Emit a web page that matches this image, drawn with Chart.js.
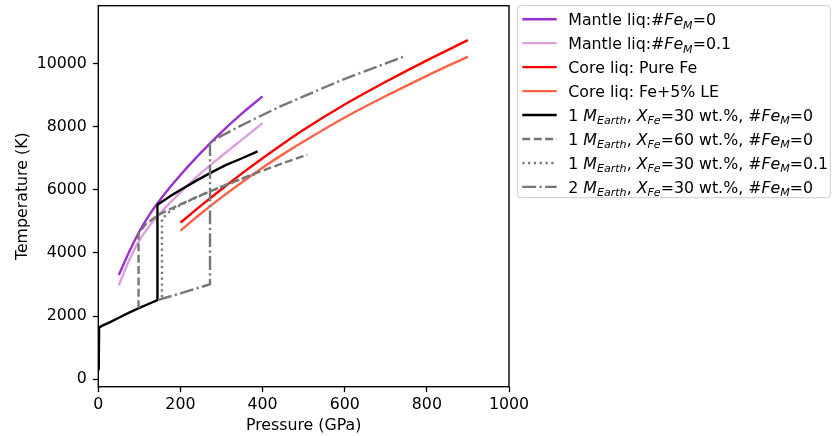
<!DOCTYPE html>
<html>
<head>
<meta charset="utf-8">
<script src="https://cdn.jsdelivr.net/npm/chart.js@4.4.1/dist/chart.umd.min.js"></script>
<style>
  html, body { margin: 0; padding: 0; background: #fff; }
</style>
</head>
<body>
<canvas id="meltChart" width="833" height="436"></canvas>
<script>
// axis ticks
const pressureTicks = [0, 200, 400, 600, 800, 1000];
const temperatureTicks = [0, 2000, 4000, 6000, 8000, 10000];

// legend labels ($...$ = math, _ = subscript)
const seriesLabels = [
  'Mantle liq:#$Fe_M$=0',
  'Mantle liq:#$Fe_M$=0.1',
  'Core liq: Pure Fe',
  'Core liq: Fe+5% LE',
  '1 $M_{Earth}$, $X_{Fe}$=30 wt.%, #$Fe_M$=0',
  '1 $M_{Earth}$, $X_{Fe}$=60 wt.%, #$Fe_M$=0',
  '1 $M_{Earth}$, $X_{Fe}$=30 wt.%, #$Fe_M$=0.1',
  '2 $M_{Earth}$, $X_{Fe}$=30 wt.%, #$Fe_M$=0'
];

// mantle liquidus
const mantle0P = [50, 75, 100, 125, 150, 200, 250, 300, 350, 400];
const mantle0T = [3300, 4030, 4680, 5220, 5680, 6470, 7180, 7830, 8420, 8960];
const mantle01P = [50, 75, 100, 125, 150, 200, 250, 300, 350, 400];
const mantle01T = [2980, 3760, 4400, 4860, 5250, 5920, 6530, 7070, 7590, 8110];

// core liquidus
const coreFeP = [200, 250, 300, 350, 400, 450, 500, 600, 700, 800, 900];
const coreFeT = [4960, 5500, 6020, 6520, 7000, 7460, 7900, 8700, 9420, 10100, 10740];
const coreLEP = [200, 250, 300, 350, 400, 450, 500, 600, 700, 800, 900];
const coreLET = [4710, 5250, 5760, 6240, 6700, 7130, 7530, 8290, 8970, 9610, 10220];

// planet temperature profiles
const earth30P = [1, 2, 10, 30, 50, 75, 100, 125, 144, 144, 175, 207, 240, 272, 310, 350, 388];
const earth30T = [290, 1640, 1700, 1820, 1950, 2110, 2260, 2400, 2510, 5530, 5800, 6050, 6300, 6530, 6780, 7000, 7216];
const earth60P = [98, 98, 115, 130, 150, 175, 200, 250, 300, 370, 440, 509];
const earth60T = [2250, 4620, 4900, 5050, 5230, 5390, 5540, 5830, 6100, 6460, 6800, 7110];
const earth30FeP = [155, 155, 175, 200, 250, 300, 340, 380];
const earth30FeT = [2600, 5080, 5330, 5520, 5820, 6100, 6300, 6480];
const earth2P = [146, 200, 272, 272, 300, 350, 400, 443, 500, 550, 605, 650, 700, 749];
const earth2T = [2515, 2720, 3010, 7480, 7710, 8050, 8370, 8640, 8960, 9240, 9540, 9760, 10000, 10240];

const seriesP = [mantle0P, mantle01P, coreFeP, coreLEP, earth30P, earth60P, earth30FeP, earth2P];
const seriesT = [mantle0T, mantle01T, coreFeT, coreLET, earth30T, earth60T, earth30FeT, earth2T];

const lineColors = ['#9932cc', '#dda0dd', '#ff0000', '#ff6347', '#000000', '#777777', '#777777', '#777777'];
const lineDashes = [[], [], [], [], [], [8, 3.4], [2.2, 3.6], [13.8, 3.4, 2.2, 3.4]];
// smooth only the liquidus curves (profiles have vertical jumps)
const smoothCurve = [true, true, true, true, false, false, false, false];

const FONT = '"DejaVu Sans", sans-serif';
const FS = 15.8;

function parseLabel(str) {
  const parts = str.split('$');
  const segs = [];
  parts.forEach((part, idx) => {
    if (idx % 2 === 0) {
      if (part) segs.push({ text: part, italic: false, sub: false });
      return;
    }
    let k = 0;
    while (k < part.length) {
      if (part[k] === '_') {
        let sub;
        if (part[k + 1] === '{') {
          const end = part.indexOf('}', k);
          sub = part.slice(k + 2, end);
          k = end + 1;
        } else {
          sub = part[k + 1];
          k += 2;
        }
        segs.push({ text: sub, italic: true, sub: true });
      } else {
        let j = k;
        while (j < part.length && part[j] !== '_') j++;
        segs.push({ text: part.slice(k, j), italic: true, sub: false });
        k = j;
      }
    }
  });
  return segs;
}

// frame on all four sides, like matplotlib spines
const framePlugin = {
  id: 'frame',
  afterDatasetsDraw(chart) {
    const a = chart.chartArea;
    const ctx = chart.ctx;
    ctx.save();
    ctx.strokeStyle = '#000';
    ctx.lineWidth = 1.4;
    ctx.setLineDash([]);
    ctx.strokeRect(a.left, a.top, a.right - a.left, a.bottom - a.top);
    ctx.restore();
  }
};

// legend outside the axes, with italic / subscript pieces
const legendPlugin = {
  id: 'mplLegend',
  afterDraw(chart) {
    const ctx = chart.ctx;
    ctx.save();
    const bx = 517.3, by = 5.7, bw = 313, bh = 192, r = 3;
    ctx.beginPath();
    ctx.moveTo(bx + r, by);
    ctx.arcTo(bx + bw, by, bx + bw, by + bh, r);
    ctx.arcTo(bx + bw, by + bh, bx, by + bh, r);
    ctx.arcTo(bx, by + bh, bx, by, r);
    ctx.arcTo(bx, by, bx + bw, by, r);
    ctx.closePath();
    ctx.fillStyle = 'rgba(255,255,255,0.8)';
    ctx.fill();
    ctx.strokeStyle = '#cccccc';
    ctx.lineWidth = 1;
    ctx.stroke();

    chart.data.datasets.forEach((ds, i) => {
      const y = 19.2 + i * 23.96;
      ctx.beginPath();
      ctx.strokeStyle = ds.borderColor;
      ctx.lineWidth = ds.borderWidth;
      ctx.lineCap = 'butt';
      ctx.setLineDash(ds.borderDash || []);
      ctx.moveTo(522.3, y);
      ctx.lineTo(556.7, y);
      ctx.stroke();
      ctx.setLineDash([]);

      let x = 568.3;
      const base = y + 5.9;
      ctx.fillStyle = '#000';
      ctx.textBaseline = 'alphabetic';
      ctx.textAlign = 'left';
      parseLabel(ds.label).forEach(seg => {
        const size = seg.sub ? FS * 0.7 : FS;
        ctx.font = (seg.italic ? 'italic ' : '') + size + 'px ' + FONT;
        ctx.fillText(seg.text, x, base + (seg.sub ? 3.5 : 0));
        x += ctx.measureText(seg.text).width;
      });
    });
    ctx.restore();
  }
};

const datasets = seriesP.map((pArr, i) => ({
  label: seriesLabels[i],
  data: pArr.map((p, k) => ({ x: p, y: seriesT[i][k] })),
  borderColor: lineColors[i],
  backgroundColor: lineColors[i],
  borderWidth: 2.4,
  borderDash: lineDashes[i],
  borderCapStyle: 'butt',
  borderJoinStyle: 'round',
  pointRadius: 0,
  showLine: true,
  fill: false,
  tension: 0,
  cubicInterpolationMode: smoothCurve[i] ? 'monotone' : 'default',
  order: seriesP.length - i
}));

const ctx = document.getElementById('meltChart');

const myChart = new Chart(ctx, {
  type: 'scatter',
  data: { datasets: datasets },
  options: {
    responsive: false,
    animation: false,
    events: [],
    layout: { padding: { top: 5.7, right: 324, bottom: 0, left: 0 } },
    plugins: {
      legend: { display: false },
      tooltip: { enabled: false }
    },
    scales: {
      x: {
        type: 'linear',
        min: 0,
        max: 1000,
        afterBuildTicks: (scale) => { scale.ticks = pressureTicks.map(v => ({ value: v })); },
        afterFit: (scale) => { scale.height = 49.3; scale.paddingLeft = 0; scale.paddingRight = 0; },
        border: { display: false },
        grid: { drawOnChartArea: false, drawTicks: true, tickLength: 5.4, tickWidth: 1.3, tickColor: '#000' },
        ticks: { color: '#000', font: { family: FONT, size: FS }, padding: 3, maxRotation: 0, callback: v => String(v) },
        title: { display: true, text: 'Pressure (GPa)', color: '#000', font: { family: FONT, size: FS }, padding: { top: 0, bottom: 0.5 } }
      },
      y: {
        type: 'linear',
        min: -234,
        max: 11830,
        afterBuildTicks: (scale) => { scale.ticks = temperatureTicks.map(v => ({ value: v })); },
        afterFit: (scale) => { scale.width = 98.3; scale.paddingTop = 0; scale.paddingBottom = 0; },
        border: { display: false },
        grid: { drawOnChartArea: false, drawTicks: true, tickLength: 5.4, tickWidth: 1.3, tickColor: '#000' },
        ticks: { color: '#000', font: { family: FONT, size: FS }, padding: 6, callback: v => String(v) },
        title: { display: true, text: 'Temperature (K)', color: '#000', font: { family: FONT, size: FS }, padding: { top: 13, bottom: 0 } }
      }
    }
  },
  plugins: [framePlugin, legendPlugin]
});
</script>
</body>
</html>
